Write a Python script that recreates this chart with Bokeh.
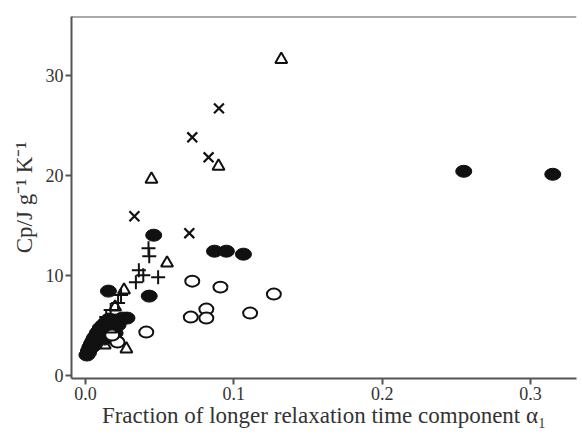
from bokeh.plotting import figure
from bokeh.models import Span, Range1d, FixedTicker
from bokeh.embed import file_html
from bokeh.resources import INLINE

# Filled circles
filled_x = [0.255, 0.315, 0.087, 0.095, 0.1065, 0.046, 0.043, 0.0155, 0.028,
            0.001, 0.002, 0.003, 0.004, 0.005, 0.006, 0.007, 0.008, 0.009, 0.010,
            0.012, 0.014, 0.016, 0.018, 0.020, 0.022, 0.025, 0.003, 0.006, 0.010,
            0.015, 0.020, 0.002, 0.005, 0.013, 0.018]
filled_y = [20.4, 20.1, 12.4, 12.4, 12.1, 14.0, 7.9, 8.4, 5.7,
            2.0, 2.4, 2.8, 3.1, 3.4, 3.7, 3.9, 4.2, 4.4, 4.7,
            5.0, 5.3, 5.6, 4.8, 5.5, 5.0, 5.7, 2.6, 3.0, 4.0,
            4.5, 4.2, 2.2, 2.9, 3.6, 3.8]

# Open circles
open_x = [0.091, 0.127, 0.0815, 0.0815, 0.111, 0.071, 0.072, 0.041, 0.0216, 0.018]
open_y = [8.8, 8.1, 6.6, 5.7, 6.2, 5.8, 9.4, 4.3, 3.3, 4.0]

# Triangles
tri_x = [0.132, 0.0445, 0.0897, 0.055, 0.026, 0.0276, 0.020, 0.017, 0.013]
tri_y = [31.6, 19.6, 20.9, 11.2, 8.5, 2.6, 6.8, 4.6, 3.0]

# Crosses (x)
x_x = [0.090, 0.072, 0.083, 0.033, 0.070]
x_y = [26.7, 23.8, 21.8, 15.9, 14.2]

# Plus signs
plus_x = [0.0425, 0.043, 0.036, 0.049, 0.039, 0.034, 0.024, 0.022, 0.017, 0.014, 0.012, 0.010, 0.007]
plus_y = [12.7, 11.9, 10.5, 9.8, 10.0, 9.3, 8.0, 7.2, 6.5, 5.8, 5.2, 4.5, 3.8]

x_ticks = [0.0, 0.1, 0.2, 0.3]
y_ticks = [0, 10, 20, 30]

FONT = "Liberation Serif"
INK = "#111111"
AXC = "#555555"

p = figure(width=582, height=437, output_backend="svg", toolbar_location=None,
           x_range=Range1d(-0.0094, 0.331), y_range=Range1d(-0.35, 35.9),
           min_border_left=71, min_border_right=6, min_border_top=16, min_border_bottom=59)
p.outline_line_color = None
p.xgrid.visible = False
p.ygrid.visible = False
p.background_fill_color = "white"

p.ellipse(x=filled_x, y=filled_y, width=16, height=12, width_units="screen",
          height_units="screen", fill_color=INK, line_color=INK)
p.ellipse(x=open_x, y=open_y, width=14, height=11, width_units="screen",
          height_units="screen", fill_color="white", line_color=INK, line_width=2)
p.scatter(x=tri_x, y=tri_y, marker="triangle", size=12, fill_color=None,
          line_color=INK, line_width=2)
p.scatter(x=x_x, y=x_y, marker="x", size=14, line_color=INK, line_width=2.2)
p.scatter(x=plus_x, y=plus_y, marker="cross", size=14, line_color=INK, line_width=2)

top = Span(location=35.9, dimension="width", line_color=AXC, line_width=2)
p.add_layout(top)

p.xaxis.ticker = FixedTicker(ticks=x_ticks)
p.yaxis.ticker = FixedTicker(ticks=y_ticks)
p.xaxis.major_label_overrides = {0.0: "0.0", 0.1: "0.1", 0.2: "0.2", 0.3: "0.3"}
for ax in (p.xaxis[0], p.yaxis[0]):
    ax.axis_line_color = AXC
    ax.axis_line_width = 2
    ax.major_tick_line_color = AXC
    ax.major_tick_line_width = 2
    ax.major_tick_out = 6
    ax.major_tick_in = 0
    ax.minor_tick_line_color = None
    ax.major_label_text_font = FONT
    ax.major_label_text_font_size = "18px"
    ax.major_label_text_color = "#333333"
    ax.axis_label_text_font = FONT
    ax.axis_label_text_font_size = "23px"
    ax.axis_label_text_font_style = "normal"
    ax.axis_label_text_color = "#333333"

p.xaxis.axis_label = "Fraction of longer relaxation time component α₁"
p.yaxis.axis_label = "Cp/J g⁻¹ K⁻¹"
p.xaxis.major_label_standoff = 2
p.xaxis.axis_label_standoff = 0
p.yaxis.major_label_standoff = 2
p.yaxis.axis_label_standoff = 6

open("out.html", "w").write(file_html(p, INLINE))
